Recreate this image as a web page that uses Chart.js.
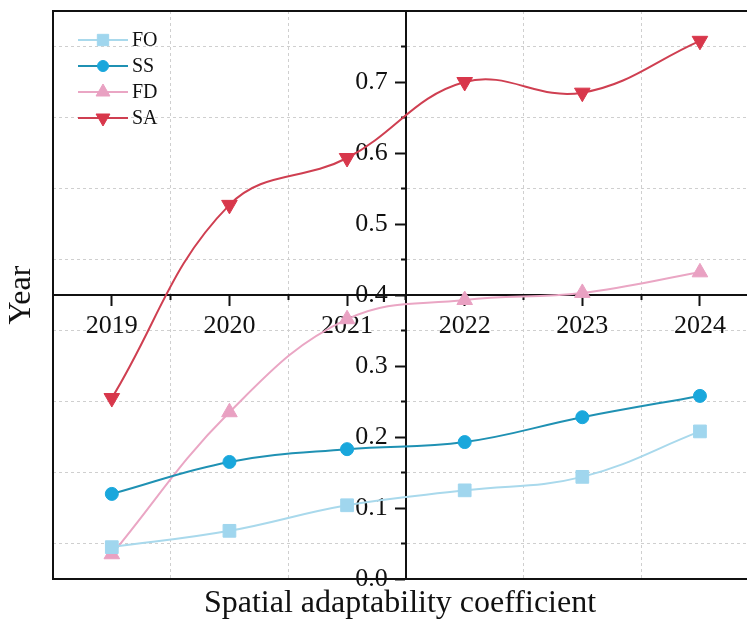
<!DOCTYPE html>
<html>
<head>
<meta charset="utf-8">
<script src="https://cdn.jsdelivr.net/npm/chart.js@4.4.1/dist/chart.umd.min.js"></script>
<style>
  html, body { margin: 0; padding: 0; background: #fff; }
</style>
</head>
<body>
<canvas id="adaptChart" width="747" height="621"></canvas>
<script>
// values
const years = ['2019', '2020', '2021', '2022', '2023', '2024'];
const foValues = [0.045, 0.068, 0.104, 0.125, 0.144, 0.208];
const ssValues = [0.120, 0.165, 0.183, 0.193, 0.228, 0.258];
const fdValues = [0.035, 0.235, 0.366, 0.393, 0.403, 0.432];
const saValues = [0.255, 0.527, 0.593, 0.700, 0.685, 0.758];
const yTicks = [0, 0.1, 0.2, 0.3, 0.4, 0.5, 0.6, 0.7];
const yMinorTicks = [0.05, 0.15, 0.25, 0.35, 0.45, 0.55, 0.65, 0.75];
const xMinorTicks = [0.5, 1.5, 2.5, 3.5, 4.5];

const serif = "'Liberation Serif', 'Times New Roman', serif";
const ink = '#111';

function toPoints(values) {
    return values.map((v, i) => ({ x: i, y: v }));
}

function series(label, values, line, marker, style, radius, rotation) {
    return {
        label: label,
        data: toPoints(values),
        borderColor: line,
        borderWidth: 2,
        tension: 0.4,
        pointStyle: style,
        pointRadius: radius,
        pointRotation: rotation || 0,
        pointBackgroundColor: marker,
        pointBorderColor: marker,
        pointBorderWidth: 1,
        fill: false
    };
}

// axes sit inside the plot, so they should not push the plot edges in
function noEdgePadding(axis) {
    axis.paddingTop = 0;
    axis.paddingBottom = 0;
    axis.paddingLeft = 0;
    axis.paddingRight = 0;
}

// black frame on the left, top and bottom of the plot
const framePlugin = {
    id: 'frame',
    beforeDatasetsDraw(chart) {
        const { ctx, chartArea: a } = chart;
        ctx.save();
        ctx.strokeStyle = ink;
        ctx.lineWidth = 2;
        ctx.beginPath();
        ctx.moveTo(a.right + 2, a.top);
        ctx.lineTo(a.left, a.top);
        ctx.lineTo(a.left, a.bottom);
        ctx.lineTo(a.right + 2, a.bottom);
        ctx.stroke();
        ctx.restore();
    }
};

// legend inside the plot, line + marker like the original
const insetLegend = {
    id: 'insetLegend',
    afterDatasetsDraw(chart) {
        const { ctx, chartArea: a } = chart;
        chart.data.datasets.forEach((ds, i) => {
            const y = a.top + 29 + i * 26;
            const x0 = a.left + 25;
            ctx.save();
            ctx.strokeStyle = ds.borderColor;
            ctx.lineWidth = 2;
            ctx.beginPath();
            ctx.moveTo(x0, y);
            ctx.lineTo(x0 + 50, y);
            ctx.stroke();
            ctx.fillStyle = ds.pointBackgroundColor;
            ctx.strokeStyle = ds.pointBorderColor;
            ctx.lineWidth = 1;
            Chart.helpers.drawPoint(ctx, {
                pointStyle: ds.pointStyle,
                radius: ds.pointRadius - 1,
                rotation: ds.pointRotation,
                borderWidth: 1
            }, x0 + 25, y);
            ctx.fillStyle = ink;
            ctx.font = '20px ' + serif;
            ctx.textAlign = 'left';
            ctx.textBaseline = 'middle';
            ctx.fillText(ds.label, x0 + 54, y + 1);
            ctx.restore();
        });
    }
};

const tickFont = { family: serif, size: 26 };

const ctx = document.getElementById('adaptChart').getContext('2d');
new Chart(ctx, {
    type: 'line',
    data: {
        datasets: [
            series('FO', foValues, '#a9d9ec', '#a0d6ee', 'rect', 9),
            series('SS', ssValues, '#1f91b3', '#19a7dc', 'circle', 6.5),
            series('FD', fdValues, '#eaa6c4', '#e9a1c2', 'triangle', 9),
            series('SA', saValues, '#cf3f51', '#d8374b', 'triangle', 9, 180)
        ]
    },
    options: {
        responsive: false,
        animation: false,
        layout: { autoPadding: false, padding: { top: 11, left: 0, right: 0, bottom: 0 } },
        plugins: {
            legend: { display: false },
            tooltip: { enabled: false },
            title: {
                display: true,
                position: 'left',
                fullSize: false,
                text: 'Year',
                color: ink,
                font: { family: serif, size: 32, weight: 'normal', lineHeight: 1.2 },
                padding: { top: 2, bottom: 12.6 }
            },
            subtitle: {
                display: true,
                position: 'bottom',
                fullSize: false,
                text: 'Spatial adaptability coefficient',
                color: ink,
                font: { family: serif, size: 32, weight: 'normal', lineHeight: 1.09 },
                padding: { top: 7, bottom: 0 }
            }
        },
        scales: {
            x: {
                type: 'linear',
                position: { y: 0.4 },
                min: -0.5,
                max: 5.4,
                afterBuildTicks: axis => { axis.ticks = years.map((_, i) => ({ value: i })); },
                afterFit: noEdgePadding,
                ticks: {
                    callback: v => years[v],
                    font: tickFont,
                    color: ink,
                    padding: 6,
                    maxRotation: 0,
                    autoSkip: false
                },
                grid: { drawOnChartArea: false, tickLength: 10, tickWidth: 2, tickColor: ink },
                border: { color: ink, width: 2 }
            },
            xMinor: {
                type: 'linear',
                position: { y: 0.4 },
                min: -0.5,
                max: 5.4,
                afterBuildTicks: axis => { axis.ticks = xMinorTicks.map(v => ({ value: v })); },
                afterFit: noEdgePadding,
                ticks: { display: false },
                grid: { color: '#cfcfcf', lineWidth: 1, tickLength: 5, tickWidth: 2, tickColor: ink },
                border: { display: false, dash: [3, 3] }
            },
            y: {
                type: 'linear',
                position: { x: 2.5 },
                min: 0,
                max: 0.8,
                afterBuildTicks: axis => { axis.ticks = yTicks.map(v => ({ value: v })); },
                afterFit: noEdgePadding,
                ticks: {
                    // labels of an inner axis are right-aligned on the axis line itself
                    callback: v => v.toFixed(1) + '  \u2009',
                    font: tickFont,
                    color: ink,
                    padding: 0
                },
                grid: { drawOnChartArea: false, tickLength: 10, tickWidth: 2, tickColor: ink },
                border: { color: ink, width: 2 }
            },
            yMinor: {
                type: 'linear',
                position: { x: 2.5 },
                min: 0,
                max: 0.8,
                afterBuildTicks: axis => { axis.ticks = yMinorTicks.map(v => ({ value: v })); },
                afterFit: noEdgePadding,
                ticks: { display: false },
                grid: { color: '#cfcfcf', lineWidth: 1, tickLength: 5, tickWidth: 2, tickColor: ink },
                border: { display: false, dash: [3, 3] }
            }
        }
    },
    plugins: [framePlugin, insetLegend]
});
</script>
</body>
</html>
